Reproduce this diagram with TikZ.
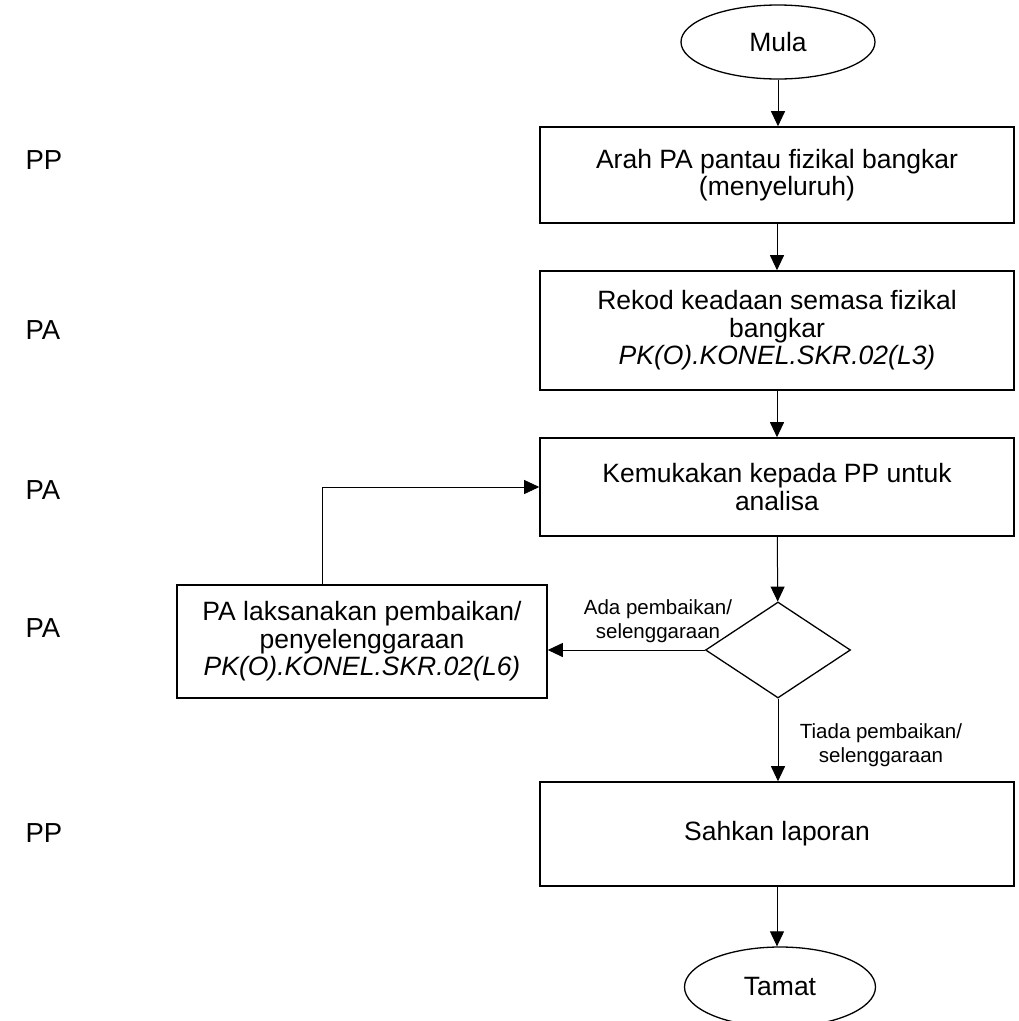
\documentclass[tikz,border=0pt]{standalone}
\usepackage{fontspec}
\setmainfont{Liberation Sans}
\usetikzlibrary{shapes.geometric,arrows.meta}

\tikzset{
  process/.style={draw, line width=1.6pt, minimum width=474pt, inner sep=0pt,
    align=center, font=\fontsize{26.5}{27.5}\selectfont},
  terminal/.style={draw, ellipse, line width=1.3pt, minimum width=194pt,
    minimum height=74pt, inner sep=0pt, font=\fontsize{26.5}{27.5}\selectfont},
  decision/.style={draw, diamond, line width=1.3pt, minimum width=145pt,
    minimum height=96pt, inner sep=0pt},
  flow/.style={line width=1pt, -{Triangle[length=15pt,width=14pt]}},
  role/.style={anchor=west, font=\fontsize{27.5}{28}\selectfont},
  branch/.style={align=center, font=\fontsize{20.5}{23.5}\selectfont}
}

\begin{document}
\begin{tikzpicture}[x=1pt,y=-1pt]
        \useasboundingbox (0,0) rectangle (1019,1021);

        % carta aliran
        \node [terminal] (mula) at (778,42) {Mula};
        \node [process, minimum height=96pt] (arah) at (777,175)
          {Arah PA pantau fizikal bangkar\\(menyeluruh)};
        \node [process, minimum height=119pt] (rekod) at (777,330.5)
          {Rekod keadaan semasa fizikal\\bangkar\\\textit{PK(O).KONEL.SKR.02(L3)}};
        \node [process, minimum height=98pt] (kemuka) at (777,487)
          {Kemukakan kepada PP untuk\\analisa};
        \node [decision] (semak) at (778,650) {};
        \node [process, minimum width=370pt, minimum height=113pt] (baiki) at (362,641.5)
          {PA laksanakan pembaikan/\\penyelenggaraan\\\textit{PK(O).KONEL.SKR.02(L6)}};
        \node [process, minimum height=104pt] (sahkan) at (777,834) {Sahkan laporan};
        \node [terminal, minimum width=191pt, minimum height=80pt] (tamat) at (780,987) {Tamat};

        % pegawai
        \node [role] (peg1) at (22,160) {PP};
        \node [role] (peg2) at (22,330) {PA};
        \node [role] (peg3) at (22,490) {PA};
        \node [role] (peg4) at (22,628) {PA};
        \node [role] (peg5) at (22,833) {PP};

        % anak panah
        \draw [flow] (mula) -- (mula |- arah.north);
        \draw [flow] (arah) -- (rekod);
        \draw [flow] (rekod) -- (kemuka);
        \draw [flow] (kemuka) -- (semak);
        \draw [flow] (semak.west) -- (semak.west -| baiki.east);
        \draw [flow] (semak) -- (semak |- sahkan.north);
        \draw [flow] (sahkan) -- (sahkan |- tamat.north);

        \coordinate (belok) at (322,487);
        \draw [flow, line width=0.6pt] (baiki.north -| belok) -- (belok) -- (kemuka.west);

        \node [branch] (ada) at (658,621) {Ada pembaikan/\\selenggaraan};
        \node [branch] (tiada) at (881,745) {Tiada pembaikan/\\selenggaraan};

      \end{tikzpicture}
\end{document}
